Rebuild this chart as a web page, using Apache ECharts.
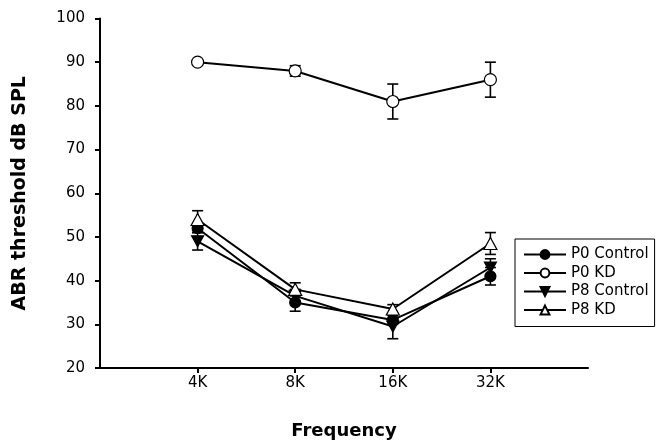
<!DOCTYPE html>
<html>
<head>
<meta charset="utf-8">
<script src="https://cdn.jsdelivr.net/npm/echarts@6/dist/echarts.min.js"></script>
<style>
html,body{margin:0;padding:0;background:#fff;}
#chart{width:657px;height:445px;}
</style>
</head>
<body>
<div id="chart"></div>
<script>
const categories = ['4K', '8K', '16K', '32K'];
const yTicks = [20, 30, 40, 50, 60, 70, 80, 90, 100];
const p0Control = [52, 35, 31, 41];
const p0ControlErr = [1, 2, 1, 2];
const p0KD = [90, 88, 81, 86];
const p0KDErr = [0, 1.2, 4, 4];
const p8Control = [49, 36.5, 29.5, 43];
const p8ControlErr = [2, 1.5, 2.8, 2];
const p8KD = [54, 38, 33.5, 48.5];
const p8KDErr = [2, 1.5, 1, 2.5];

const FONT = 'DejaVu Sans';
const downTri = 'path://M0,0 L10,0 L5,9 Z';
const upTri = 'path://M5,0 L10,9 L0,9 Z';

function pts(vals) { return vals.map((v, i) => [i + 1, v]); }
function errData(vals, errs) {
  return vals.map((v, i) => [i + 1, v - errs[i], v + errs[i], errs[i]]);
}
function errSeries(vals, errs) {
  return {
    type: 'custom',
    z: 1,
    silent: true,
    data: errData(vals, errs),
    renderItem: function (params, api) {
      if (api.value(3) <= 0) return null;
      const lo = api.coord([api.value(0), api.value(1)]);
      const hi = api.coord([api.value(0), api.value(2)]);
      const hw = 5.5;
      const st = { stroke: '#000', lineWidth: 1.6 };
      return {
        type: 'group',
        children: [
          { type: 'line', shape: { x1: lo[0], y1: lo[1], x2: hi[0], y2: hi[1] }, style: st },
          { type: 'line', shape: { x1: lo[0] - hw, y1: lo[1], x2: lo[0] + hw, y2: lo[1] }, style: st },
          { type: 'line', shape: { x1: hi[0] - hw, y1: hi[1], x2: hi[0] + hw, y2: hi[1] }, style: st }
        ]
      };
    }
  };
}
function lineSeries(name, vals, symbol, size, fill) {
  return {
    name: name,
    type: 'line',
    z: 3,
    data: pts(vals),
    symbol: symbol,
    symbolSize: size,
    showAllSymbol: true,
    lineStyle: { color: '#000', width: 2 },
    itemStyle: { color: fill, borderColor: '#000', borderWidth: 1.2 },
    emphasis: { disabled: true },
    animation: false
  };
}

const chart = echarts.init(document.getElementById('chart'), null, { renderer: 'canvas' });
chart.setOption({
  animation: false,
  backgroundColor: '#fff',
  textStyle: { fontFamily: FONT },
  grid: { left: 100, right: 69, top: 18.5, bottom: 76 },
  legend: {
    orient: 'vertical',
    left: 515,
    top: 239,
    borderColor: '#000',
    borderWidth: 1,
    borderRadius: 0,
    padding: [8, 6, 9, 8],
    itemWidth: 42,
    itemHeight: 11,
    itemGap: 3.5,
    textStyle: { fontFamily: FONT, fontSize: 15, color: '#000' },
    data: ['P0 Control', 'P0 KD', 'P8 Control', 'P8 KD']
  },
  xAxis: {
    type: 'value',
    min: 0,
    max: 5,
    interval: 1,
    name: 'Frequency',
    nameLocation: 'middle',
    nameGap: 54,
    nameTextStyle: { fontFamily: FONT, fontSize: 18, fontWeight: 'bold', color: '#000' },
    axisLine: { show: true, onZero: false, lineStyle: { color: '#000', width: 2 } },
    axisTick: { show: true, inside: false, length: 5, lineStyle: { color: '#000', width: 2 }, customValues: [1, 2, 3, 4] },
    axisLabel: {
      fontFamily: FONT, fontSize: 15, color: '#000', margin: 8,
      customValues: [1, 2, 3, 4],
      formatter: function (v) { return categories[Math.round(v) - 1] || ''; }
    },
    splitLine: { show: false }
  },
  yAxis: {
    type: 'value',
    min: 20,
    max: 100,
    interval: 10,
    name: 'ABR threshold dB SPL',
    nameLocation: 'middle',
    nameGap: 70,
    nameTextStyle: { fontFamily: FONT, fontSize: 19, fontWeight: 'bold', color: '#000' },
    axisLine: { show: true, lineStyle: { color: '#000', width: 2 } },
    axisTick: { show: true, inside: false, length: 5, lineStyle: { color: '#000', width: 2 } },
    axisLabel: {
      fontFamily: FONT, fontSize: 15, color: '#000', margin: 15,
      customValues: yTicks
    },
    splitLine: { show: false }
  },
  series: [
    errSeries(p0Control, p0ControlErr),
    errSeries(p0KD, p0KDErr),
    errSeries(p8Control, p8ControlErr),
    errSeries(p8KD, p8KDErr),
    lineSeries('P0 Control', p0Control, 'circle', 11, '#000'),
    lineSeries('P0 KD', p0KD, 'circle', 12, '#fff'),
    lineSeries('P8 Control', p8Control, downTri, [12, 11], '#000'),
    lineSeries('P8 KD', p8KD, upTri, [13, 12], '#fff')
  ]
});
</script>
</body>
</html>
